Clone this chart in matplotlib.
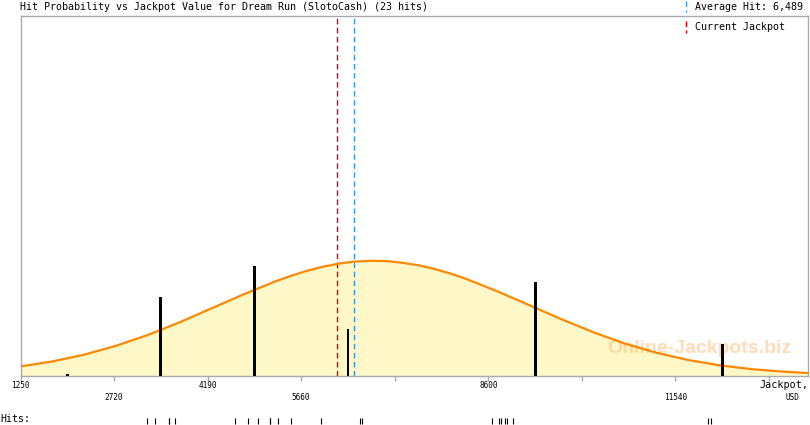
import matplotlib
matplotlib.use("Agg")
import matplotlib.pyplot as plt
from matplotlib.transforms import blended_transform_factory

# ---------------- data ----------------
title = "Hit Probability vs Jackpot Value for Dream Run (SlotoCash) (23 hits)"
average_hit = 6489
current_jackpot = 6215

# histogram bins (bin centres, USD) and hit counts
bin_centers = [1985, 3455, 4925, 6395, 7865, 9335, 10805, 12275]
bin_counts = [0.07, 5, 7, 3, 0, 6, 0, 2]

# individual hits (USD)
hits = [3242, 3363, 3583, 3583, 3676,
        4620, 4829, 4986, 5170, 5170, 5300, 5495,
        5971, 6583, 6620,
        8662, 8772, 8803, 8866, 8898, 8992,
        12055, 12093]

# probability curve (in hit units)
curve_x = [1250, 1750, 2250, 2750, 3250, 3750, 4250, 4750, 5250, 5500, 5750,
           6000, 6250, 6500, 6750, 7000, 7250, 7500, 7750, 8000, 8250, 8750,
           9250, 9750, 10250, 10750, 11250, 11750, 12250, 12750, 13250, 13622]
curve_y = [0.58, 0.90, 1.33, 1.90, 2.59, 3.40, 4.29, 5.18, 6.01, 6.37, 6.69,
           6.95, 7.15, 7.28, 7.33, 7.31, 7.20, 7.04, 6.81, 6.52, 6.17, 5.36,
           4.48, 3.59, 2.76, 2.03, 1.44, 0.98, 0.64, 0.40, 0.24, 0.16]

tick_values = [1250, 2720, 4190, 5660, 7130, 8600, 10070, 11540, 13010]
tick_labels_row1 = {1250: "1250", 4190: "4190", 8600: "8600"}
tick_labels_row2 = {2720: "2720", 5660: "5660", 11540: "11540"}

x_min, x_max = 1250, 13622
y_max = 23

# ---------------- figure ----------------
W, H = 810, 425
fig = plt.figure(figsize=(W / 100, H / 100), dpi=100)
L, R, T, B = 20.5, 808, 15.5, 375.5
ax = fig.add_axes([L / W, (H - B) / H, (R - L) / W, (B - T) / H])
ax.set_xlim(x_min, x_max)
ax.set_ylim(0, y_max)

mono = "DejaVu Sans Mono"
frame_c = "#aaaaaa"
for s in ax.spines.values():
    s.set_color(frame_c)
    s.set_linewidth(1.0)

# watermark
ax.text(0.862, 0.076, "Online-Jackpots.biz", transform=ax.transAxes,
        fontsize=14, fontweight="bold", family="Liberation Sans",
        color="#ffb060", alpha=0.45, ha="center", va="center", zorder=1)

ax.fill_between(curve_x, curve_y, 0, color="#fef8c8", zorder=0, lw=0)
ax.plot(curve_x, curve_y, color="#ff8800", lw=1.6, zorder=3, solid_capstyle="butt")

ax.bar(bin_centers, bin_counts, width=46, color="black", zorder=4, linewidth=0)

ax.axvline(current_jackpot, color="#dd0000", lw=1.0, ls=(0, (4, 2.5)), zorder=2)
ax.axvline(average_hit, color="#3399dd", lw=1.0, ls=(0, (4, 2.5)), zorder=2)

ax.set_yticks([])
ax.set_xticks(tick_values)
ax.set_xticklabels([])
ax.tick_params(axis="x", direction="out", length=3.8, width=1.0, color=frame_c)

bt = blended_transform_factory(ax.transData, fig.transFigure)
for v, lab in tick_labels_row1.items():
    ax.text(v, (H - 386) / H, lab, transform=bt, ha="center", va="center",
            fontsize=5.6, family=mono)
for v, lab in tick_labels_row2.items():
    ax.text(v, (H - 397.5) / H, lab, transform=bt, ha="center", va="center",
            fontsize=5.6, family=mono)

fig.text(808 / W, (H - 385) / H, "Jackpot,", ha="right", va="center",
         fontsize=7.3, family=mono)
fig.text(799 / W, (H - 397.5) / H, "USD", ha="right", va="center",
         fontsize=5.6, family=mono)

# title
fig.text(20 / W, (H - 7) / H, title, ha="left", va="center", fontsize=7.2, family=mono)

# legend
fig.add_artist(plt.Line2D([686 / W, 686 / W], [(H - 0.5) / H, (H - 12) / H],
                          color="#3399dd", lw=1.0, ls=(0, (4, 2.5))))
fig.text(695 / W, (H - 7) / H, f"Average Hit: {average_hit:,}", ha="left", va="center",
         fontsize=7.2, family=mono)
fig.add_artist(plt.Line2D([686 / W, 686 / W], [(H - 21) / H, (H - 33) / H],
                          color="#dd0000", lw=1.0, ls=(0, (4, 2.5))))
fig.text(695 / W, (H - 26.5) / H, "Current Jackpot", ha="left", va="center",
         fontsize=7.2, family=mono)

# hits row
fig.text(0, (H - 419.5) / H, "Hits:", ha="left", va="center", fontsize=7.2, family=mono)
ax.vlines(hits, (H - 418) / H, (H - 423.5) / H, transform=bt, color="black",
          lw=0.8, clip_on=False)

fig.savefig("out.png", dpi=100, facecolor="white")
